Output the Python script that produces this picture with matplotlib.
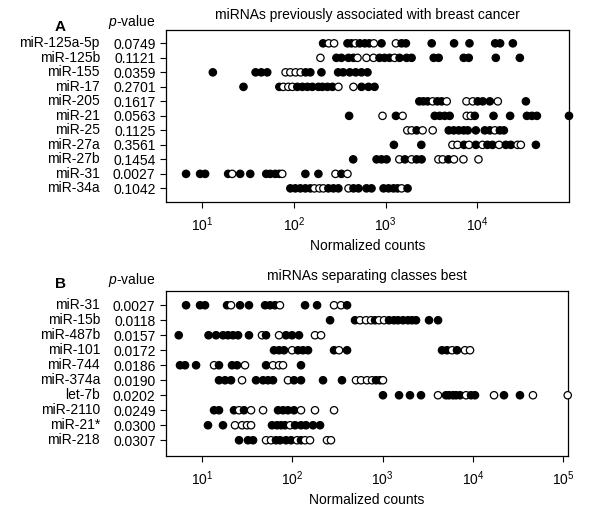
import numpy as np
import matplotlib
matplotlib.use("Agg")
import matplotlib.pyplot as plt
from matplotlib.ticker import NullLocator

plt.rcParams['font.family'] = ['Liberation Sans', 'DejaVu Sans']
plt.rcParams['font.size'] = 10
plt.rcParams['mathtext.fontset'] = 'custom'
plt.rcParams['mathtext.rm'] = 'Liberation Sans'
plt.rcParams['mathtext.it'] = 'Liberation Sans:italic'

# panel A: miRNAs previously associated with breast cancer
# values are log10(normalized counts)
a_names = ['miR-125a-5p', 'miR-125b', 'miR-155', 'miR-17', 'miR-205', 'miR-21',
           'miR-25', 'miR-27a', 'miR-27b', 'miR-31', 'miR-34a']
a_pvals = ['0.0749', '0.1121', '0.0359', '0.2701', '0.1617', '0.0563',
           '0.1125', '0.3561', '0.1454', '0.0027', '0.1042']
a_filled = [
    [2.319, 2.585, 2.628, 2.719, 2.774, 2.822, 2.956, 3.175, 3.222, 3.503, 3.747, 3.915, 4.195, 4.249, 4.388],
    [2.464, 2.519, 2.596, 2.650, 2.934, 2.989, 3.044, 3.153, 3.230, 3.284, 3.525, 3.579, 3.852, 3.907, 4.202, 4.464],
    [1.117, 1.583, 1.645, 1.710, 2.129, 2.180, 2.301, 2.483, 2.538, 2.610, 2.675, 2.738, 2.803],
    [1.451, 1.842, 2.038, 2.093, 2.148, 2.202, 2.268, 2.311, 2.366, 2.421, 2.738, 2.814, 2.880],
    [3.368, 3.412, 3.459, 3.565, 3.612, 4.005, 4.060, 4.137, 4.530],
    [2.603, 3.113, 3.536, 3.590, 3.645, 3.699, 3.973, 4.177, 4.358, 4.541, 4.596, 4.650, 5.0],
    [3.339, 3.689, 3.743, 3.798, 3.852, 3.896, 3.984, 4.082, 4.137, 4.246, 4.290],
    [3.091, 3.390, 3.856, 3.984, 4.111, 4.166, 4.311, 4.366, 4.639],
    [2.647, 2.902, 2.956, 3.011, 3.211, 3.339, 3.393, 3.685],
    [0.825, 0.978, 1.033, 1.284, 1.415, 1.525, 1.699, 1.743, 1.798, 1.842, 2.126, 2.268, 2.519],
    [1.962, 2.016, 2.071, 2.126, 2.180, 2.377, 2.432, 2.486, 2.650, 2.705, 2.792, 2.847, 2.978, 3.033, 3.087, 3.131, 3.240],
]
a_open = [
    [2.381, 2.439, 2.672, 2.872, 3.113],
    [2.290, 2.694, 2.792, 2.869, 3.098],
    [1.910, 1.962, 2.020, 2.074],
    [1.885, 1.940, 1.984, 2.486, 2.650],
    [3.514, 3.667, 3.882, 3.951, 4.224],
    [2.967, 3.186, 3.885, 3.929],
    [3.237, 3.284, 3.404, 3.514, 4.191],
    [3.729, 3.784, 3.910, 4.057, 4.238, 4.439, 4.475],
    [3.150, 3.284, 3.576, 3.623, 3.746, 3.849, 4.013],
    [1.328, 1.874, 2.454, 2.585],
    [2.224, 2.279, 2.322, 2.596, 3.175],
]

# panel B: miRNAs separating classes best
b_names = ['miR-31', 'miR-15b', 'miR-487b', 'miR-101', 'miR-744', 'miR-374a',
           'let-7b', 'miR-2110', 'miR-21*', 'miR-218']
b_pvals = ['0.0027', '0.0118', '0.0157', '0.0172', '0.0186', '0.0190',
           '0.0202', '0.0249', '0.0300', '0.0307']
b_filled = [
    [0.823, 0.978, 1.033, 1.277, 1.421, 1.520, 1.698, 1.753, 1.808, 2.141, 2.274, 2.606],
    [2.418, 2.694, 2.916, 3.071, 3.126, 3.171, 3.226, 3.281, 3.325, 3.370, 3.514, 3.614],
    [0.742, 1.072, 1.155, 1.233, 1.288, 1.343, 1.399, 1.520, 1.709, 1.930, 1.997, 2.074],
    [1.797, 1.853, 1.908, 2.063, 2.118, 2.174, 2.462, 2.606, 3.658, 3.713, 3.824],
    [0.756, 0.812, 0.934, 1.188, 1.332, 1.388, 1.709, 2.096],
    [1.188, 1.255, 1.321, 1.598, 1.676, 1.731, 1.786, 2.019, 2.096, 2.340, 2.550, 2.927, 2.971],
    [3.004, 3.182, 3.303, 3.425, 3.702, 3.735, 3.779, 3.813, 3.857, 3.979, 4.023, 4.344, 4.521],
    [1.133, 1.188, 1.354, 1.465, 1.842, 1.897, 1.952, 2.019],
    [1.066, 1.232, 1.775, 1.831, 1.875, 1.919, 2.030, 2.096, 2.151, 2.229, 2.307],
    [1.410, 1.509, 1.565, 1.819, 1.864, 1.930, 1.986, 2.096],
]
b_open = [
    [1.321, 1.863, 2.462, 2.539],
    [2.750, 2.816, 2.872, 2.960, 3.016],
    [1.664, 1.853, 2.251, 2.318],
    [1.997, 2.517, 3.769, 3.912, 3.968],
    [1.133, 1.476, 1.786, 1.853, 1.897],
    [1.443, 1.952, 2.705, 2.761, 2.827, 2.883, 3.004],
    [3.613, 3.924, 4.234, 4.665, 5.05],
    [1.410, 1.543, 1.676, 2.096, 2.251, 2.462],
    [1.365, 1.443, 1.498, 1.543, 1.975],
    [1.709, 1.764, 2.052, 2.141, 2.196, 2.384, 2.428],
]


def draw_panel(ax, names, pvals, filled, hollow, title, letter, xlim, xticks, ylim, hdr_y, title_y):
    """ one strip panel with two columns of row labels """
    for i in range(len(names)):
        vals = np.array(filled[i] + hollow[i])
        face = np.array(['black'] * len(filled[i]) + ['white'] * len(hollow[i]))
        order = np.argsort(vals)
        ax.scatter(10 ** vals[order], np.full(len(vals), i), s=28, c=face[order],
                   edgecolors='black', linewidths=0.9, zorder=3, clip_on=False)

    ax.set_xscale('log')
    ax.set_xlim(xlim)
    ax.set_ylim(ylim)
    ax.set_xticks(xticks)
    ax.xaxis.set_minor_locator(NullLocator())
    ax.set_yticks(range(len(names)))
    ax.set_yticklabels(pvals)
    ax.tick_params(axis='y', direction='out', length=4.5, width=0.8, pad=3)
    ax.tick_params(axis='x', direction='out', length=4.5, width=0.8, pad=5)
    ax.set_xlabel('Normalized counts', labelpad=4)
    for sp in ax.spines.values():
        sp.set_linewidth(0.9)

    yt = ax.get_yaxis_transform()
    for i, nm in enumerate(names):
        ax.text(-0.164, i, nm, transform=yt, ha='right', va='center')

    ax.text(-0.027, hdr_y, '$\\mathit{p}$-value', transform=ax.transAxes, ha='right', va='center')
    ax.text(-0.263, hdr_y - 0.025, letter, transform=ax.transAxes, ha='center', va='center',
            fontsize=11, fontweight='bold')
    ax.text(0.5, title_y, title, transform=ax.transAxes, ha='center', va='center')


fig = plt.figure(figsize=(6.0, 5.2), dpi=100)
ax_a = fig.add_axes([166 / 600, 1 - 202 / 520, 403 / 600, 172 / 520])
ax_b = fig.add_axes([166 / 600, 1 - 456 / 520, 402 / 600, 165 / 520])

draw_panel(ax_a, a_names, a_pvals, a_filled, a_open,
           'miRNAs previously associated with breast cancer', 'A',
           (4.04, 1.0e5), [1e1, 1e2, 1e3, 1e4], (10.94, -0.92), 1.045, 1.087)
draw_panel(ax_b, b_names, b_pvals, b_filled, b_open,
           'miRNAs separating classes best', 'B',
           (3.99, 1.13e5), [1e1, 1e2, 1e3, 1e4, 1e5], (10.05, -0.95), 1.067, 1.09)

fig.savefig('out.png', dpi=100)
